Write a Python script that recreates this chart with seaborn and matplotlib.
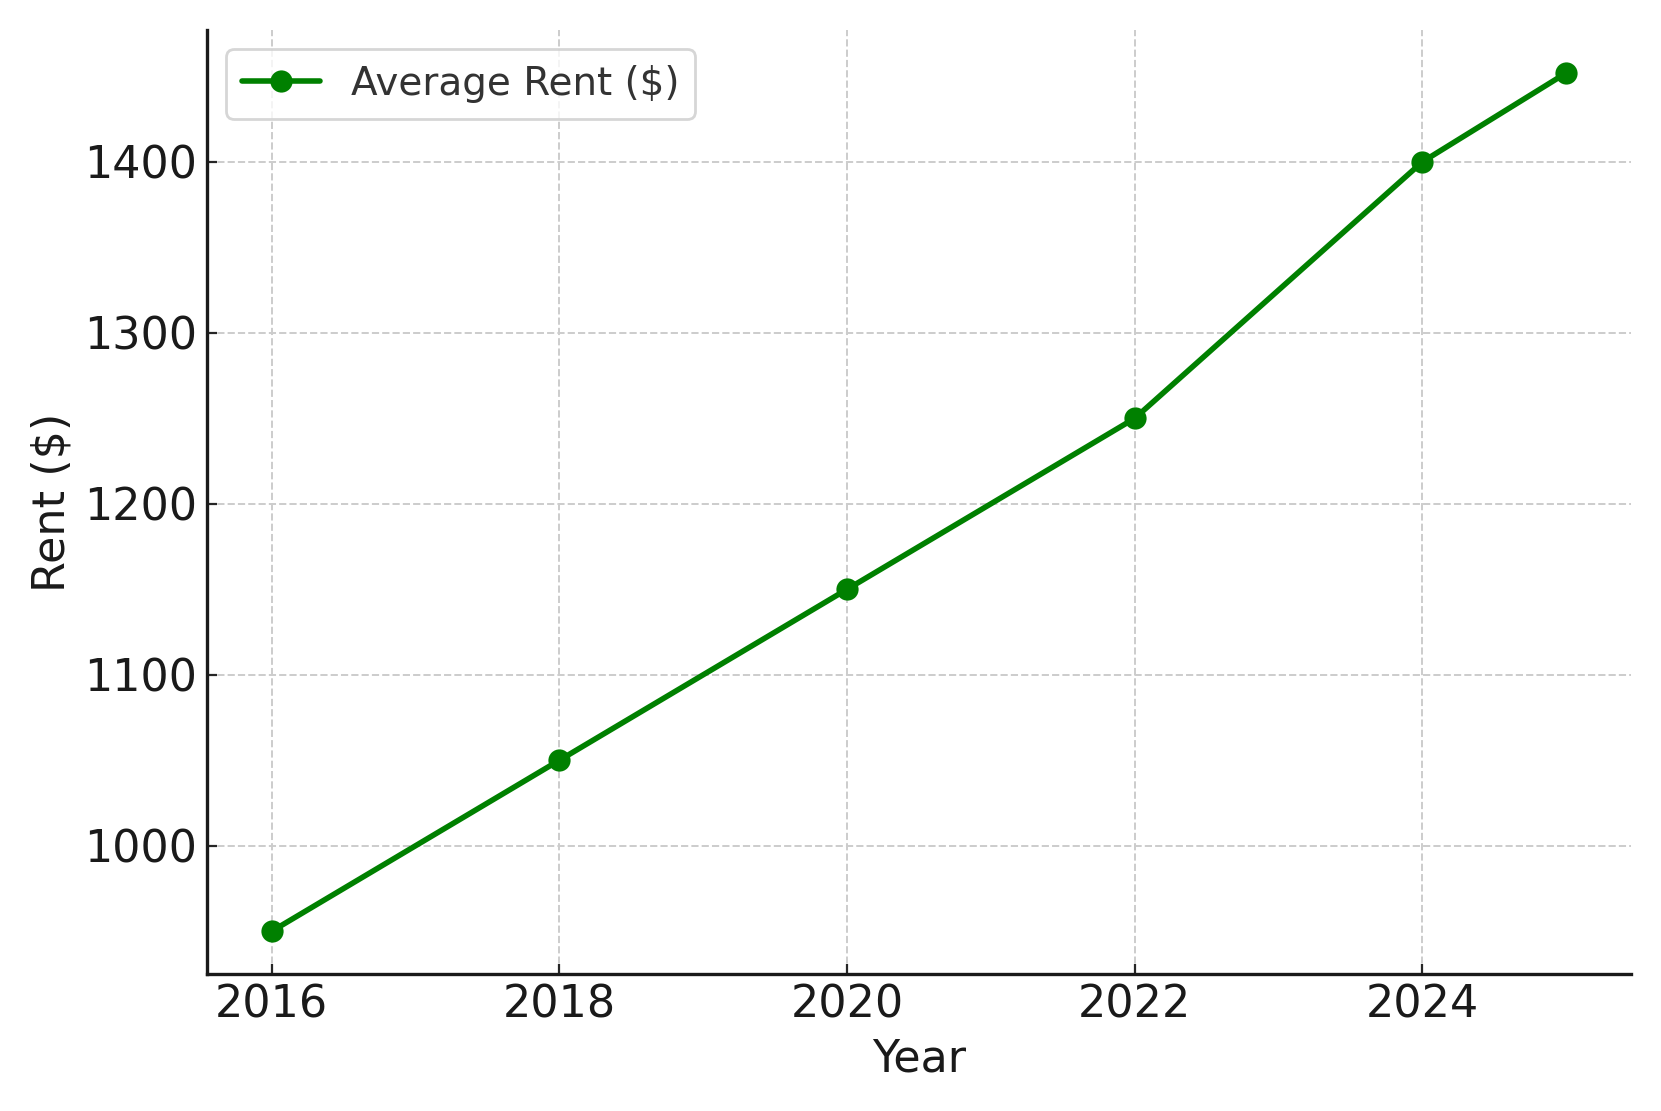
import matplotlib
matplotlib.use("Agg")
import matplotlib.pyplot as plt
import seaborn as sns
import pandas as pd

years = [2016, 2018, 2020, 2022, 2024, 2025]
rent = [950, 1050, 1150, 1250, 1400, 1452]

df = pd.DataFrame({"Year": years, "Rent": rent})

sns.set_style("ticks")
plt.rcParams["font.family"] = ["DejaVu Sans"]

fig, ax = plt.subplots(figsize=(8.305, 5.555), dpi=200)
sns.lineplot(data=df, x="Year", y="Rent", color="green", marker="o",
             markersize=8, markeredgewidth=0, linewidth=2,
             label="Average Rent ($)", ax=ax)

ax.set_xticks([2016, 2018, 2020, 2022, 2024])
ax.set_xlabel("Year", fontsize=16, color="#1a1a1a")
ax.set_ylabel("Rent ($)", fontsize=16, color="#1a1a1a")
ax.tick_params(direction="in", labelsize=16, labelcolor="#1a1a1a")
ax.grid(True, linestyle="--", color="#cccccc", linewidth=0.7)
sns.despine(ax=ax)
for s in ("left", "bottom"):
    ax.spines[s].set_color("#1a1a1a")
    ax.spines[s].set_linewidth(1.2)
leg = ax.legend(loc="upper left", fontsize=14, frameon=True)
for t in leg.get_texts():
    t.set_color("#333333")

fig.tight_layout()
fig.savefig("out.png", dpi=200)
